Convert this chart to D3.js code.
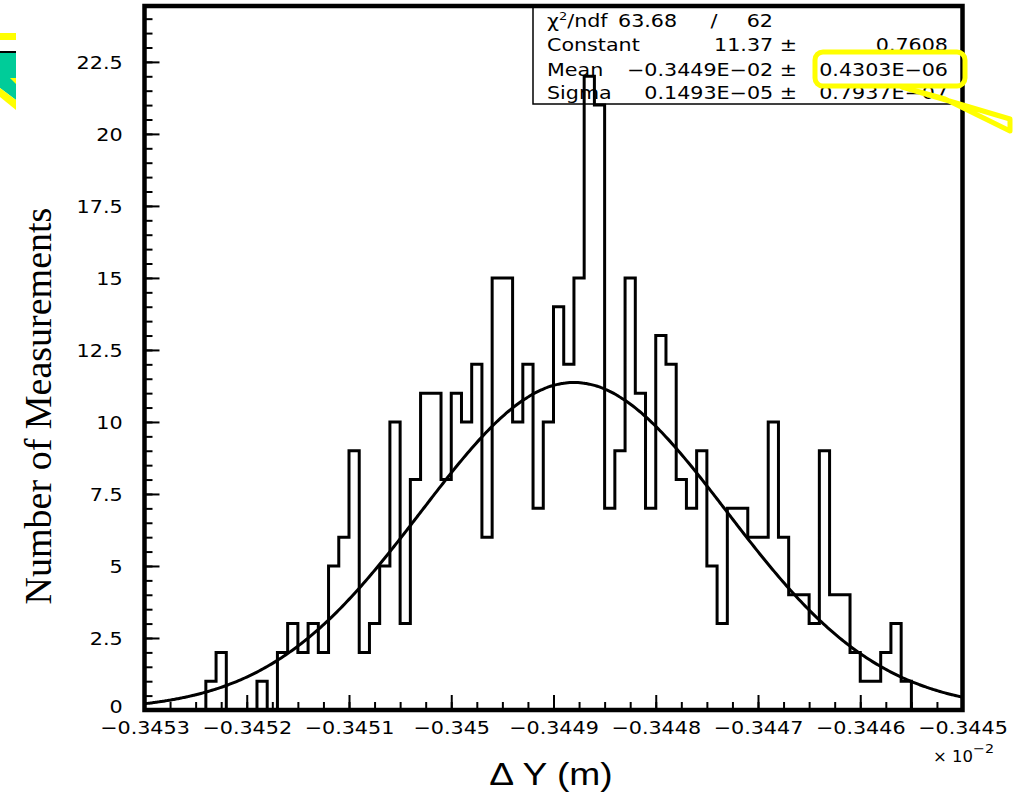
<!DOCTYPE html>
<html><head><meta charset="utf-8">
<script src="https://cdn.jsdelivr.net/npm/d3@7"></script>
<style>body{margin:0;background:#fff}svg{display:block}</style>
</head><body>
<svg id="c" width="1026" height="793"></svg>
<script>
// ---------- data ----------
const xRange = [-0.3453, -0.3445];           // axis units (x 10^-2 m)
const nBins = 80;
const binCounts = [
  0,0,0,0,0,0,1,2,0,0,
  0,1,0,2,3,2,3,2,5,6,
  9,2,3,5,10,3,8,11,11,8,
  11,10,12,6,15,15,10,12,7,10,
  14,12,15,22,21,7,9,15,11,7,
  13,12,8,7,9,5,3,7,7,6,
  6,10,6,4,4,3,9,4,4,2,
  1,1,2,3,1,0,0,0,0,0
];
const xTickValues = [-0.3453,-0.3452,-0.3451,-0.3450,-0.3449,-0.3448,-0.3447,-0.3446,-0.3445];
const xTickLabels = ["\u22120.3453","\u22120.3452","\u22120.3451","\u22120.345","\u22120.3449","\u22120.3448","\u22120.3447","\u22120.3446","\u22120.3445"];
const yTickValues = [0,2.5,5,7.5,10,12.5,15,17.5,20,22.5];
const yTickLabels = ["0","2.5","5","7.5","10","12.5","15","17.5","20","22.5"];
const yMax = 24.44;
// Gaussian fit parameters (x in axis units)
const fitConstant = 11.37, fitMean = -0.34488, fitSigma = 0.0001493;
// stats box
const statNames  = ["Constant","Mean","Sigma"];
const statValues = ["11.37 \u00b1","\u22120.3449E\u221202 \u00b1","0.1493E\u221205 \u00b1"];
const statErrors = ["0.7608","0.4303E\u221206","0.7937E\u221207"];
const chi2 = "63.68", ndf = "62";

// ---------- layout ----------
const svg = d3.select("#c");
const L = 144.5, R = 962.5, T = 6, B = 710;
const x = d3.scaleLinear().domain(xRange).range([L, R]);
const y = d3.scaleLinear().domain([0, yMax]).range([B, T]);
const tickFont = "DejaVu Sans, sans-serif";

// ---------- stats box (under histogram) ----------
const boxL = 533, boxB = 104;
svg.append("rect").attr("x", boxL).attr("y", T).attr("width", R - boxL).attr("height", boxB - T)
  .attr("fill", "#fff").attr("stroke", "#000").attr("stroke-width", 1.5);
const st = svg.append("g").attr("font-family", tickFont).attr("font-size", 17.5).attr("fill", "#000");
function stxt(txt, px, py, anchor) {
  return st.append("text").attr("transform", `translate(${px},${py}) scale(1.18,1)`)
    .attr("text-anchor", anchor).text(txt);
}
const rowY = [27, 51, 76, 99];
{
  const t = st.append("text").attr("transform", `translate(547,${rowY[0]}) scale(1.18,1)`);
  t.append("tspan").text("\u03c7");
  t.append("tspan").attr("font-size", 11).attr("dy", -7).text("2");
  t.append("tspan").attr("dy", 7).text("/ndf");
  stxt(chi2, 618, rowY[0], "start");
  stxt("/", 714, rowY[0], "middle");
  stxt(ndf, 773, rowY[0], "end");
}
statNames.forEach((n, i) => {
  stxt(n, 547, rowY[i + 1], "start");
  stxt(statValues[i], 797, rowY[i + 1], "end");
  stxt(statErrors[i], 948, rowY[i + 1], "end");
});

// ---------- histogram ----------
const binW = (xRange[1] - xRange[0]) / nBins;
const edge = i => xRange[0] + i * binW;
const pts = [[edge(0), 0]];
binCounts.forEach((c, i) => { pts.push([edge(i), c]); pts.push([edge(i + 1), c]); });
pts.push([edge(nBins), 0]);
svg.append("path").attr("d", d3.line().x(d => x(d[0])).y(d => y(d[1]))(pts))
  .attr("fill", "none").attr("stroke", "#000").attr("stroke-width", 3).attr("stroke-linejoin", "miter");

// ---------- fit curve ----------
const fx = d3.range(0, 401).map(i => xRange[0] + i * (xRange[1] - xRange[0]) / 400);
const gauss = v => fitConstant * Math.exp(-0.5 * Math.pow((v - fitMean) / fitSigma, 2));
svg.append("path").attr("d", d3.line().x(v => x(v)).y(v => y(gauss(v))).curve(d3.curveBasis)(fx))
  .attr("fill", "none").attr("stroke", "#000").attr("stroke-width", 3);

// ---------- axes ----------
const xMinor = d3.range(0, 33).map(i => xRange[0] + i * 0.000025);
svg.append("g").attr("transform", `translate(0,${B})`)
  .call(d3.axisBottom(x).tickValues(xMinor).tickSize(-8).tickFormat(""))
  .call(g => { g.select(".domain").remove(); g.selectAll("line").attr("stroke-width", 2); });
const xa = svg.append("g").attr("transform", `translate(0,${B})`)
  .call(d3.axisBottom(x).tickValues(xTickValues).tickSize(-15).tickPadding(11)
    .tickFormat((d, i) => xTickLabels[i]))
  .call(g => { g.select(".domain").remove(); g.selectAll("line").attr("stroke-width", 2); });
xa.selectAll("text").attr("font-family", tickFont).attr("font-size", 18).attr("fill", "#000")
  .attr("transform", "scale(1.15,1)");

const yMinor = d3.range(0, 49).map(i => i * 0.5);
svg.append("g").attr("transform", `translate(${L},0)`)
  .call(d3.axisLeft(y).tickValues(yMinor).tickSize(-8).tickFormat(""))
  .call(g => { g.select(".domain").remove(); g.selectAll("line").attr("stroke-width", 2); });
const ya = svg.append("g").attr("transform", `translate(${L},0)`)
  .call(d3.axisLeft(y).tickValues(yTickValues).tickSize(-15).tickPadding(19)
    .tickFormat((d, i) => yTickLabels[i]))
  .call(g => { g.select(".domain").remove(); g.selectAll("line").attr("stroke-width", 2); });
ya.selectAll("text").attr("font-family", tickFont).attr("font-size", 18).attr("fill", "#000")
  .attr("dy", (d, i) => i === 0 ? "0.12em" : "0.36em").attr("transform", "scale(1.15,1)");

// frame
svg.append("rect").attr("x", L).attr("y", T).attr("width", R - L).attr("height", B - T)
  .attr("fill", "none").attr("stroke", "#000").attr("stroke-width", 4.5);

// x10^-2
const ex = svg.append("text").attr("font-family", tickFont).attr("font-size", 15).attr("fill", "#000")
  .attr("transform", "translate(933,762) scale(1.1,1)");
ex.append("tspan").text("\u00d7 10");
ex.append("tspan").attr("font-size", 13).attr("dy", -9).text("\u22122");

// axis titles
svg.append("text").attr("transform", "translate(551,785) scale(1.2,1)")
  .attr("text-anchor", "middle").attr("font-family", "Liberation Sans, Arial, sans-serif")
  .attr("font-size", 31).attr("fill", "#000").text("\u0394 Y (m)");
svg.append("text").attr("transform", "translate(51,406) rotate(-90)")
  .attr("text-anchor", "middle").attr("font-family", "Liberation Serif, Times New Roman, serif")
  .attr("font-size", 38).attr("fill", "#000").text("Number of Measurements");

// ---------- annotation decorations ----------
const yel = "#ffff00";
svg.append("rect").attr("x", 0).attr("y", 33).attr("width", 16).attr("height", 7).attr("fill", yel);
svg.append("rect").attr("x", 0).attr("y", 51).attr("width", 16).attr("height", 2).attr("fill", "#000");
svg.append("polygon").attr("points", "0,53 16,53 16,100 0,88").attr("fill", "#00cc99");
svg.append("polygon").attr("points", "10,78 16,78 16,84").attr("fill", yel);
svg.append("polygon").attr("points", "0,88 16,100 16,110 0,97").attr("fill", yel);

svg.append("rect").attr("x", 815).attr("y", 52).attr("width", 150).attr("height", 34).attr("rx", 8)
  .attr("fill", "none").attr("stroke", yel).attr("stroke-width", 5);
svg.append("polygon").attr("points", "902,87 1010,119 1010,131 945,99")
  .attr("fill", "none").attr("stroke", yel).attr("stroke-width", 5).attr("stroke-linejoin", "round");
</script>
</body></html>
